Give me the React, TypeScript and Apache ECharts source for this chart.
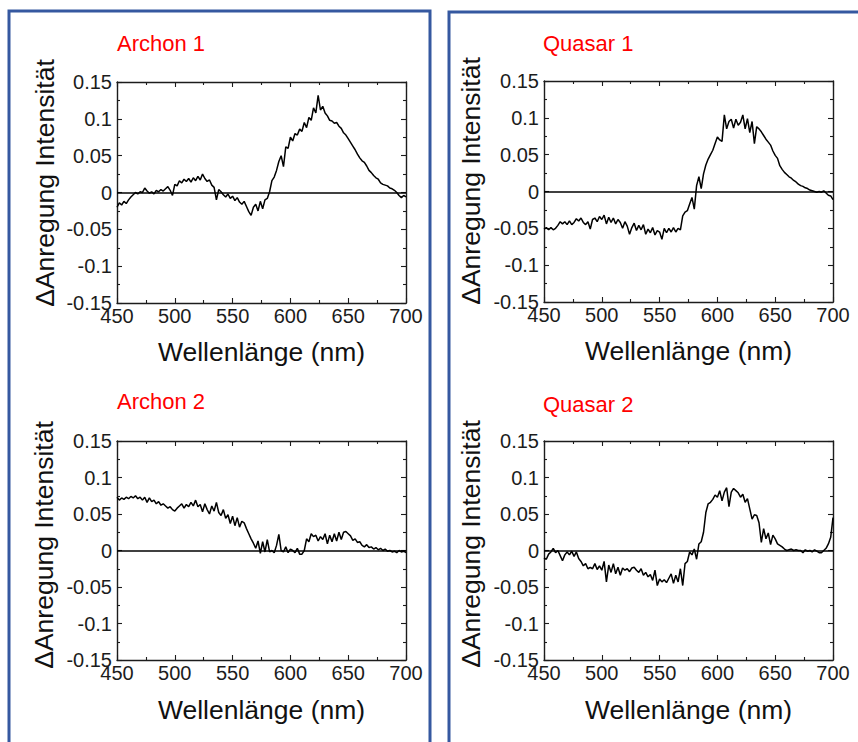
import React, { useEffect, useRef } from "react";
import * as echarts from "echarts";

const wavelengths = [
  450, 452, 454, 456, 458, 460, 462, 464, 466, 468,
  470, 472, 474, 476, 478, 480, 482, 484, 486, 488,
  490, 492, 494, 496, 498, 500, 502, 504, 506, 508,
  510, 512, 514, 516, 518, 520, 522, 524, 526, 528,
  530, 532, 534, 536, 538, 540, 542, 544, 546, 548,
  550, 552, 554, 556, 558, 560, 562, 564, 566, 568,
  570, 572, 574, 576, 578, 580, 582, 584, 586, 588,
  590, 592, 594, 596, 598, 600, 602, 604, 606, 608,
  610, 612, 614, 616, 618, 620, 622, 624, 626, 628,
  630, 632, 634, 636, 638, 640, 642, 644, 646, 648,
  650, 652, 654, 656, 658, 660, 662, 664, 666, 668,
  670, 672, 674, 676, 678, 680, 682, 684, 686, 688,
  690, 692, 694, 696, 698, 700,
];

const archon1 = [
  -0.020, -0.014, -0.017, -0.012, -0.015, -0.010, -0.006, -0.003, 0.000, -0.002,
  0.001, 0.000, 0.006, 0.002, -0.001, 0.001, -0.002, 0.003, 0.001, 0.004,
  0.002, 0.005, 0.008, 0.003, -0.004, 0.011, 0.009, 0.016, 0.013, 0.018,
  0.015, 0.019, 0.014, 0.020, 0.016, 0.022, 0.017, 0.025, 0.019, 0.015,
  0.017, 0.010, 0.007, -0.010, 0.004, 0.001, -0.003, -0.006, -0.002, -0.008,
  -0.005, -0.011, -0.007, -0.013, -0.016, -0.012, -0.019, -0.026, -0.031, -0.020,
  -0.016, -0.025, -0.012, -0.022, -0.010, -0.008, 0.001, 0.016, 0.021, 0.030,
  0.042, 0.050, 0.035, 0.062, 0.060, 0.075, 0.070, 0.080, 0.078, 0.086,
  0.083, 0.095, 0.088, 0.102, 0.098, 0.115, 0.108, 0.132, 0.112, 0.117,
  0.108, 0.104, 0.098, 0.097, 0.094, 0.095, 0.090, 0.087, 0.081, 0.078,
  0.073, 0.068, 0.063, 0.058, 0.052, 0.047, 0.043, 0.041, 0.036, 0.030,
  0.027, 0.023, 0.020, 0.018, 0.013, 0.011, 0.010, 0.009, 0.006, 0.005,
  0.003, 0.000, -0.004, -0.007, -0.004, -0.006,
];

const quasar1 = [
  -0.051, -0.049, -0.052, -0.049, -0.052, -0.050, -0.046, -0.041, -0.044, -0.041,
  -0.045, -0.040, -0.045, -0.042, -0.037, -0.040, -0.036, -0.042, -0.045, -0.041,
  -0.051, -0.038, -0.036, -0.041, -0.034, -0.038, -0.032, -0.044, -0.035, -0.042,
  -0.036, -0.044, -0.038, -0.042, -0.050, -0.041, -0.047, -0.058, -0.049, -0.043,
  -0.053, -0.046, -0.052, -0.045, -0.058, -0.051, -0.056, -0.049, -0.059, -0.053,
  -0.055, -0.065, -0.050, -0.056, -0.050, -0.055, -0.049, -0.055, -0.050, -0.052,
  -0.033, -0.028, -0.026, -0.017, -0.008, -0.024, 0.008, 0.020, 0.004, 0.024,
  0.036, 0.044, 0.050, 0.056, 0.065, 0.074, 0.070, 0.068, 0.104, 0.085,
  0.095, 0.098, 0.086, 0.098, 0.090, 0.094, 0.104, 0.085, 0.099, 0.080,
  0.095, 0.065, 0.088, 0.085, 0.081, 0.076, 0.071, 0.067, 0.063, 0.055,
  0.049, 0.045, 0.035, 0.030, 0.026, 0.023, 0.020, 0.018, 0.015, 0.013,
  0.010, 0.008, 0.007, 0.005, 0.004, 0.002, 0.001, 0.000, -0.001, 0.000,
  -0.001, 0.001, -0.002, -0.005, -0.006, -0.011,
];

const archon2 = [
  0.073, 0.069, 0.072, 0.070, 0.073, 0.071, 0.074, 0.072, 0.075, 0.071,
  0.073, 0.069, 0.073, 0.066, 0.072, 0.067, 0.069, 0.064, 0.067, 0.062,
  0.064, 0.061, 0.058, 0.060, 0.056, 0.054, 0.058, 0.061, 0.064, 0.058,
  0.063, 0.060, 0.066, 0.061, 0.069, 0.060, 0.063, 0.053, 0.064, 0.056,
  0.050, 0.061, 0.054, 0.066, 0.052, 0.048, 0.056, 0.044, 0.049, 0.037,
  0.047, 0.034, 0.045, 0.032, 0.040, 0.038, 0.030, 0.023, 0.016, 0.010,
  0.003, 0.013, -0.004, 0.012, -0.002, 0.015, -0.002, 0.000, -0.003, 0.007,
  0.022, 0.000, -0.002, 0.005, -0.003, 0.002, 0.000, -0.003, 0.003, -0.005,
  -0.005, 0.000, 0.016, 0.012, 0.023, 0.019, 0.021, 0.013, 0.019, 0.015,
  0.023, 0.009, 0.021, 0.012, 0.023, 0.013, 0.025, 0.015, 0.025, 0.026,
  0.023, 0.020, 0.014, 0.016, 0.011, 0.012, 0.007, 0.005, 0.008, 0.004,
  0.005, 0.002, 0.004, 0.001, 0.003, 0.000, 0.002, -0.001, 0.000, -0.002,
  -0.001, -0.003, 0.000, -0.002, -0.001, -0.003,
];

const quasar2 = [
  -0.010, -0.012, -0.005, -0.002, 0.003, -0.003, 0.000, -0.007, -0.014, -0.006,
  -0.002, -0.006, -0.001, -0.008, -0.002, -0.011, -0.015, -0.021, -0.018, -0.025,
  -0.023, -0.025, -0.018, -0.026, -0.021, -0.027, -0.015, -0.043, -0.020, -0.030,
  -0.018, -0.032, -0.023, -0.034, -0.024, -0.027, -0.025, -0.029, -0.024, -0.023,
  -0.027, -0.030, -0.025, -0.034, -0.030, -0.036, -0.033, -0.041, -0.027, -0.048,
  -0.039, -0.043, -0.040, -0.044, -0.038, -0.032, -0.045, -0.034, -0.043, -0.025,
  -0.048, -0.018, -0.015, -0.002, -0.006, 0.002, -0.012, 0.009, 0.012, 0.025,
  0.052, 0.064, 0.066, 0.070, 0.076, 0.073, 0.082, 0.068, 0.080, 0.086,
  0.060, 0.080, 0.085, 0.082, 0.079, 0.073, 0.077, 0.066, 0.071, 0.057,
  0.043, 0.049, 0.048, 0.038, 0.011, 0.030, 0.016, 0.024, 0.008, 0.021,
  0.016, 0.009, 0.007, 0.005, 0.002, 0.000, 0.001, 0.002, 0.000, 0.001,
  0.000, 0.000, -0.003, 0.001, -0.001, 0.000, -0.002, 0.001, -0.001, -0.003,
  -0.003, 0.000, 0.003, 0.009, 0.018, 0.045,
];

const panelTitles = ["Archon 1", "Quasar 1", "Archon 2", "Quasar 2"];
const panelSeries = [archon1, quasar1, archon2, quasar2];
const xAxisName = "Wellenlänge (nm)";
const yAxisName = "ΔAnregung Intensität";

const FONT = "'Liberation Sans', Arial, Helvetica, sans-serif";
const INK = "#1c1c1c";
const BORDER_BLUE = "#3558a0";

const grids = [
  { left: 117, top: 82, width: 289, height: 221 },
  { left: 544, top: 81, width: 289, height: 221 },
  { left: 117, top: 441, width: 289, height: 219 },
  { left: 544, top: 441, width: 289, height: 219 },
];
const titlePos = [
  { x: 117, y: 43 },
  { x: 543, y: 43 },
  { x: 117, y: 401 },
  { x: 543, y: 404 },
];
const xNamePos = [352, 351, 710, 710];
const yNamePos = [
  { x: 45, y: 183 },
  { x: 471, y: 181 },
  { x: 44, y: 545 },
  { x: 471, y: 544 },
];

export default function App() {
  const ref = useRef<HTMLDivElement>(null);

  useEffect(() => {
    if (!ref.current) return;
    const chart = echarts.init(ref.current, null, { renderer: "svg" });

    const axisLine = { show: true, onZero: false, lineStyle: { color: INK, width: 1.4 } };
    const axisTick = { show: true, inside: true, length: 5, lineStyle: { color: INK, width: 1.1 } };
    const minorTick = { show: true, splitNumber: 2, length: 3, lineStyle: { color: INK, width: 1.1 } };

    const xAxes: any[] = [];
    const yAxes: any[] = [];
    const series: any[] = [];
    const graphic: any[] = [];

    graphic.push({
      type: "rect",
      shape: { x: 9, y: 11, width: 421, height: 760 },
      style: { fill: "none", stroke: BORDER_BLUE, lineWidth: 3 },
      silent: true,
    });
    graphic.push({
      type: "rect",
      shape: { x: 449, y: 12, width: 430, height: 760 },
      style: { fill: "none", stroke: BORDER_BLUE, lineWidth: 3 },
      silent: true,
    });

    grids.forEach((g, i) => {
      xAxes.push({
        type: "value",
        gridIndex: i,
        position: "bottom",
        min: 450,
        max: 700,
        interval: 50,
        axisLine,
        axisTick,
        minorTick,
        splitLine: { show: false },
        axisLabel: { show: true, fontSize: 20, color: INK, fontFamily: FONT, margin: 3 },
      });
      xAxes.push({
        type: "value",
        gridIndex: i,
        position: "top",
        min: 450,
        max: 700,
        interval: 50,
        axisLine,
        axisTick,
        minorTick,
        splitLine: { show: false },
        axisLabel: { show: false },
      });
      yAxes.push({
        type: "value",
        gridIndex: i,
        position: "left",
        min: -0.15,
        max: 0.15,
        interval: 0.05,
        axisLine,
        axisTick,
        minorTick,
        splitLine: { show: false },
        axisLabel: {
          show: true,
          fontSize: 20,
          color: INK,
          fontFamily: FONT,
          margin: 5,
          formatter: (v: number) => String(Math.round(v * 100) / 100),
        },
      });
      yAxes.push({
        type: "value",
        gridIndex: i,
        position: "right",
        min: -0.15,
        max: 0.15,
        interval: 0.05,
        axisLine,
        axisTick,
        minorTick,
        splitLine: { show: false },
        axisLabel: { show: false },
      });

      const values = panelSeries[i];
      series.push({
        type: "line",
        name: panelTitles[i],
        xAxisIndex: 2 * i,
        yAxisIndex: 2 * i,
        data: wavelengths.map((w, k) => [w, values[k]]),
        showSymbol: false,
        symbol: "none",
        lineStyle: { color: "#000", width: 1.5 },
        emphasis: { disabled: true },
        markLine: {
          silent: true,
          symbol: ["none", "none"],
          label: { show: false },
          lineStyle: { color: "#000", width: 1.7, type: "solid" },
          data: [{ yAxis: 0 }],
        },
      });

      graphic.push({
        type: "text",
        x: titlePos[i].x,
        y: titlePos[i].y,
        style: {
          text: panelTitles[i],
          fill: "#ff0000",
          fontSize: 22,
          fontFamily: FONT,
          align: "left",
          verticalAlign: "middle",
        },
        silent: true,
      });
      graphic.push({
        type: "text",
        x: g.left + g.width / 2,
        y: xNamePos[i],
        style: {
          text: xAxisName,
          fill: "#111",
          fontSize: 26.5,
          fontFamily: FONT,
          align: "center",
          verticalAlign: "middle",
        },
        silent: true,
      });
      graphic.push({
        type: "text",
        x: yNamePos[i].x,
        y: yNamePos[i].y,
        rotation: Math.PI / 2,
        style: {
          text: yAxisName,
          fill: "#111",
          fontSize: 26.5,
          fontFamily: FONT,
          align: "center",
          verticalAlign: "middle",
        },
        silent: true,
      });
    });

    chart.setOption({
      animation: false,
      backgroundColor: "#ffffff",
      grid: grids.map((g) => ({ ...g, containLabel: false })),
      xAxis: xAxes,
      yAxis: yAxes,
      series,
      graphic,
    });

    return () => {
      chart.dispose();
    };
  }, []);

  return (
    <div
      ref={ref}
      style={{ position: "absolute", left: 0, top: 0, width: 858, height: 742 }}
    />
  );
}
